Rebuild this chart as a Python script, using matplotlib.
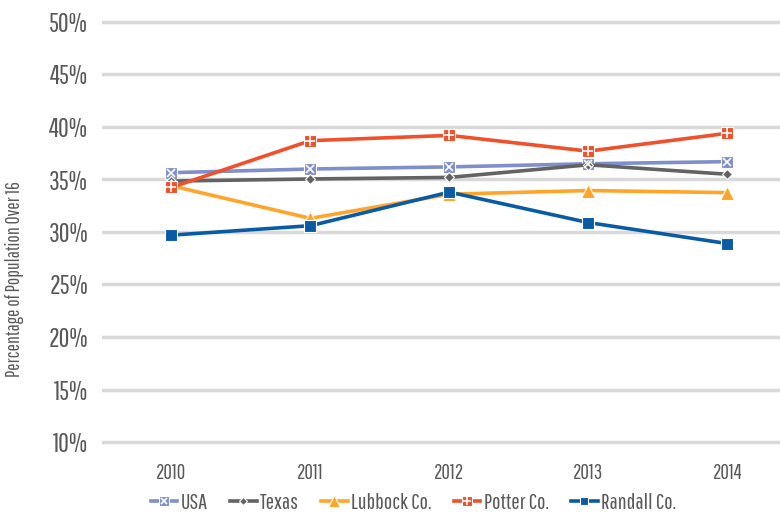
import matplotlib
matplotlib.use("Agg")
import matplotlib.pyplot as plt
from matplotlib.ticker import FuncFormatter
from matplotlib import font_manager

years = ["2010", "2011", "2012", "2013", "2014"]
usa = [35.65, 36.0, 36.2, 36.5, 36.7]
texas = [34.85, 35.05, 35.2, 36.4, 35.5]
lubbock = [34.4, 31.3, 33.6, 33.95, 33.75]
potter = [34.25, 38.7, 39.2, 37.7, 39.4]
randall = [29.7, 30.6, 33.8, 30.9, 28.9]
yticks = [10, 15, 20, 25, 30, 35, 40, 45, 50]

names = {f.name for f in font_manager.fontManager.ttflist}
fam = next((n for n in ["Pathway Gothic One", "Roboto Condensed", "DejaVu Sans"] if n in names), "DejaVu Sans")
plt.rcParams["font.family"] = [fam, "DejaVu Sans"]

W, H = 780, 516
y0, y1 = 9.7, 50.3
ppu = (442 - 22) / 40.0
bot_px = 442 + (10 - y0) * ppu
top_px = 22 - (y1 - 50) * ppu
fig = plt.figure(figsize=(W/100, H/100), dpi=100)
ax = fig.add_axes([102/W, (H - bot_px)/H, 1 - 102/W, (bot_px - top_px)/H])

x = list(range(len(years)))
TXT = "#595959"
series = [
    ("USA", usa, "#7F8FCB", "s", 9, "x", 6),
    ("Texas", texas, "#636363", "D", 5.5, None, 0),
    ("Lubbock Co.", lubbock, "#FFA52A", "^", 10, None, 0),
    ("Potter Co.", potter, "#F0502A", "s", 9, "+", 7),
    ("Randall Co.", randall, "#0A5BA6", "s", 8, None, 0),
]
handles = []
for name, vals, col, mk, ms, ov, oms in series:
    ln, = ax.plot(x, vals, color=col, lw=2.6, marker=mk, ms=ms, mec="white", mew=0.8, zorder=3)
    h = ln
    if ov:
        o, = ax.plot(x, vals, ls="none", marker=ov, ms=oms, mec="white", mew=1.2, zorder=4)
        h = (ln, o)
    handles.append((h, name))

ax.set_ylim(y0, y1)
ax.set_xlim(-0.5, 4.38)
ax.set_yticks(yticks)
ax.yaxis.set_major_formatter(FuncFormatter(lambda v, p: f"{int(v)}%"))
ax.set_xticks(x)
ax.set_xticklabels(years)
ax.grid(axis="y", color="#D9D9D9", lw=2.5, zorder=0)
for s in ax.spines.values():
    s.set_visible(False)
ax.tick_params(axis="both", length=0, colors=TXT)
ax.tick_params(axis="y", labelsize=19, pad=10)
ax.tick_params(axis="x", labelsize=15, pad=13)
ax.set_ylabel("Percentage of Population Over 16", fontsize=14, color=TXT)
ax.yaxis.set_label_coords(-0.115, 0.39)

fig.legend([h for h, n in handles], [n for h, n in handles], loc="center",
           bbox_to_anchor=(0.53, 1 - 503/H), ncol=5, frameon=False,
           fontsize=16, handlelength=1.2, handletextpad=0.15, columnspacing=1.0,
           labelcolor=TXT, borderpad=0, markerscale=0.8)
fig.savefig("out.png", dpi=100)
